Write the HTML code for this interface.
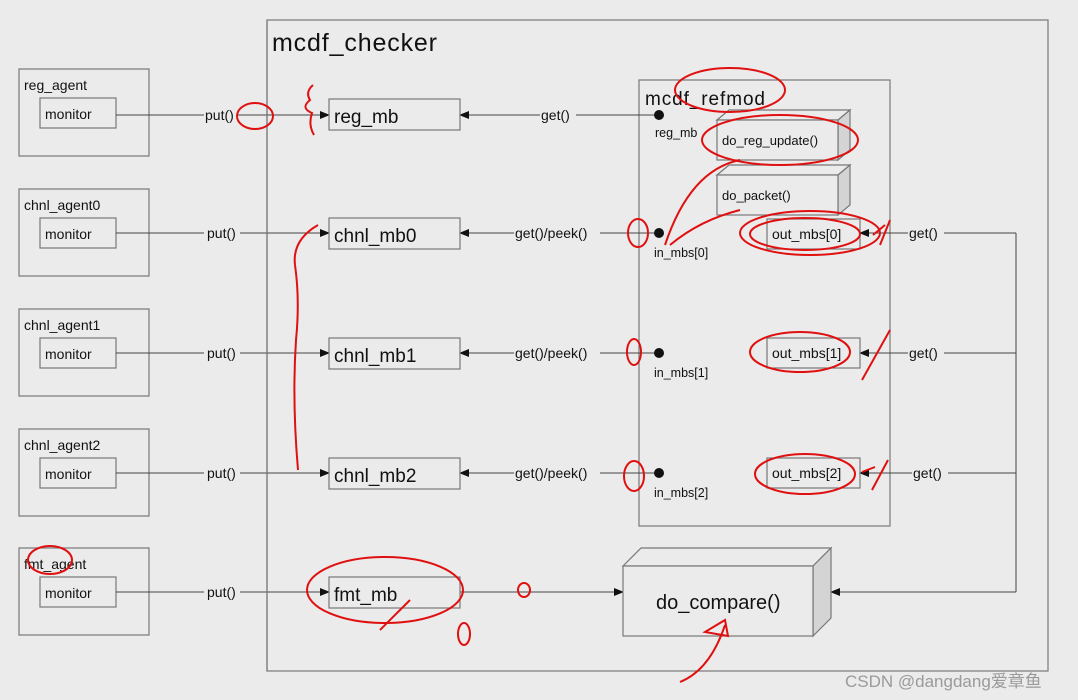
<!DOCTYPE html>
<html><head><meta charset="utf-8"><style>
html,body{margin:0;padding:0;background:#ebebeb;}
svg{display:block;font-family:"Liberation Sans","Noto Sans CJK SC",sans-serif;}
</style></head><body>
<svg width="1078" height="700" viewBox="0 0 1078 700" xmlns="http://www.w3.org/2000/svg">
<defs>
<marker id="a" markerWidth="10" markerHeight="8" refX="9" refY="4" orient="auto" markerUnits="userSpaceOnUse"><path d="M0,0 L10,4 L0,8 z" fill="#111"/></marker>
</defs>
<rect width="1078" height="700" fill="#ebebeb"/>
<g fill="none" stroke="#777" stroke-width="1.2">
<rect x="267" y="20" width="781" height="651"/>
<rect x="639" y="80" width="251" height="446"/>
</g>
<text x="272" y="51" font-size="25" fill="#111" textLength="165">mcdf_checker</text>
<text x="645" y="105" font-size="19" fill="#111" textLength="120">mcdf_refmod</text>

<g font-size="14" fill="#111">
<g fill="none" stroke="#777" stroke-width="1.2">
<rect x="19" y="69" width="130" height="87"/><rect x="40" y="98" width="76" height="30"/>
<rect x="19" y="189" width="130" height="87"/><rect x="40" y="218" width="76" height="30"/>
<rect x="19" y="309" width="130" height="87"/><rect x="40" y="338" width="76" height="30"/>
<rect x="19" y="429" width="130" height="87"/><rect x="40" y="458" width="76" height="30"/>
<rect x="19" y="548" width="130" height="87"/><rect x="40" y="577" width="76" height="30"/>
</g>
<text x="24" y="90">reg_agent</text><text x="45" y="119">monitor</text>
<text x="24" y="210">chnl_agent0</text><text x="45" y="239">monitor</text>
<text x="24" y="330">chnl_agent1</text><text x="45" y="359">monitor</text>
<text x="24" y="450">chnl_agent2</text><text x="45" y="479">monitor</text>
<text x="24" y="569">fmt_agent</text><text x="45" y="598">monitor</text>
</g>

<g stroke="#444" stroke-width="1" marker-end="url(#a)">
<line x1="116" y1="115" x2="329" y2="115"/>
<line x1="116" y1="233" x2="329" y2="233"/>
<line x1="116" y1="353" x2="329" y2="353"/>
<line x1="116" y1="473" x2="329" y2="473"/>
<line x1="116" y1="592" x2="329" y2="592"/>
<line x1="659" y1="115" x2="460" y2="115"/>
<line x1="659" y1="233" x2="460" y2="233"/>
<line x1="659" y1="353" x2="460" y2="353"/>
<line x1="659" y1="473" x2="460" y2="473"/>
<line x1="1016" y1="233" x2="860" y2="233"/>
<line x1="1016" y1="353" x2="860" y2="353"/>
<line x1="1016" y1="473" x2="860" y2="473"/>
<line x1="1016" y1="592" x2="831" y2="592"/>
<line x1="460" y1="592" x2="623" y2="592"/>
</g>
<line x1="1016" y1="233" x2="1016" y2="592" stroke="#444" stroke-width="1"/>
<line x1="267" y1="20" x2="267" y2="671" stroke="#777" stroke-width="1.2"/>

<g font-size="14" fill="#111">
<g fill="#ebebeb"><rect x="204" y="106" width="34" height="18"/><rect x="204" y="224" width="36" height="18"/><rect x="204" y="344" width="36" height="18"/><rect x="204" y="464" width="36" height="18"/><rect x="204" y="583" width="36" height="18"/>
<rect x="540" y="106" width="36" height="18"/><rect x="514" y="224" width="86" height="18"/><rect x="514" y="344" width="86" height="18"/><rect x="514" y="464" width="86" height="18"/>
<rect x="908" y="224" width="36" height="18"/><rect x="908" y="344" width="36" height="18"/><rect x="912" y="464" width="36" height="18"/></g>
<text x="205" y="120">put()</text><text x="207" y="238">put()</text><text x="207" y="358">put()</text><text x="207" y="478">put()</text><text x="207" y="597">put()</text>
<text x="541" y="120">get()</text><text x="515" y="238">get()/peek()</text><text x="515" y="358">get()/peek()</text><text x="515" y="478">get()/peek()</text>
<text x="909" y="238">get()</text><text x="909" y="358">get()</text><text x="913" y="478">get()</text>
</g>

<g fill="none" stroke="#777" stroke-width="1.2">
<rect x="329" y="99" width="131" height="31"/>
<rect x="329" y="218" width="131" height="31"/>
<rect x="329" y="338" width="131" height="31"/>
<rect x="329" y="458" width="131" height="31"/>
<rect x="329" y="577" width="131" height="31"/>
</g>
<g font-size="19" fill="#111">
<text x="334" y="123">reg_mb</text><text x="334" y="242">chnl_mb0</text><text x="334" y="362">chnl_mb1</text><text x="334" y="482">chnl_mb2</text><text x="334" y="601">fmt_mb</text>
</g>

<g fill="#111"><circle cx="659" cy="115" r="5"/><circle cx="659" cy="233" r="5"/><circle cx="659" cy="353" r="5"/><circle cx="659" cy="473" r="5"/></g>
<g font-size="12.5" fill="#111">
<text x="655" y="137">reg_mb</text><text x="654" y="257">in_mbs[0]</text><text x="654" y="377">in_mbs[1]</text><text x="654" y="497">in_mbs[2]</text>
</g>

<g stroke="#777" stroke-width="1.2">
<path d="M717,120 L729,110 L850,110 L838,120 z" fill="#ebebeb"/>
<path d="M838,120 L850,110 L850,150 L838,160 z" fill="#d4d4d4"/>
<rect x="717" y="120" width="121" height="40" fill="#ebebeb"/>
<path d="M717,175 L729,165 L850,165 L838,175 z" fill="#ebebeb"/>
<path d="M838,175 L850,165 L850,205 L838,215 z" fill="#d4d4d4"/>
<rect x="717" y="175" width="121" height="40" fill="#ebebeb"/>
<path d="M623,566 L641,548 L831,548 L813,566 z" fill="#ebebeb"/>
<path d="M813,566 L831,548 L831,618 L813,636 z" fill="#d4d4d4"/>
<rect x="623" y="566" width="190" height="70" fill="#ebebeb"/>
</g>
<g font-size="13" fill="#111"><text x="722" y="145">do_reg_update()</text><text x="722" y="200">do_packet()</text></g>
<text x="656" y="609" font-size="20" fill="#111">do_compare()</text>

<g fill="none" stroke="#777" stroke-width="1.2">
<rect x="767" y="219" width="93" height="30"/><rect x="767" y="338" width="93" height="30"/><rect x="767" y="458" width="93" height="30"/>
</g>
<g font-size="14" fill="#111"><text x="772" y="239">out_mbs[0]</text><text x="772" y="358">out_mbs[1]</text><text x="772" y="478">out_mbs[2]</text></g>

<g fill="none" stroke="#e01010" stroke-width="2">
<ellipse cx="255" cy="116" rx="18" ry="13"/>
<path d="M313,85 Q305,92 310,100 Q300,108 312,113 Q308,125 314,135"/>
<ellipse cx="730" cy="90" rx="55" ry="22"/>
<ellipse cx="780" cy="140" rx="78" ry="25"/>
<ellipse cx="810" cy="233" rx="70" ry="22"/>
<ellipse cx="805" cy="234" rx="55" ry="16"/>
<ellipse cx="638" cy="233" rx="10" ry="14"/>
<path d="M665,245 Q690,170 740,160"/>
<path d="M670,245 Q700,220 740,210"/>
<path d="M873,235 L885,225 M880,245 L890,220"/>
<ellipse cx="800" cy="352" rx="50" ry="20"/>
<path d="M862,380 L890,330"/>
<ellipse cx="634" cy="352" rx="7" ry="13"/>
<ellipse cx="634" cy="476" rx="10" ry="15"/>
<ellipse cx="805" cy="474" rx="50" ry="20"/>
<path d="M872,490 L888,460 M862,472 L875,467"/>
<path d="M318,225 Q292,240 295,265 Q300,300 296,340 Q292,400 298,470"/>
<ellipse cx="50" cy="560" rx="22" ry="14"/>
<ellipse cx="385" cy="590" rx="78" ry="33"/>
<path d="M380,630 L410,600"/>
<ellipse cx="524" cy="590" rx="6" ry="7"/>
<ellipse cx="464" cy="634" rx="6" ry="11"/>
<path d="M680,682 Q710,670 725,625 M705,632 L725,620 L728,636 z"/>
</g>

<text x="845" y="687" font-size="17" fill="#9a9a9a">CSDN @dangdang爱章鱼</text>
</svg>
</body></html>
